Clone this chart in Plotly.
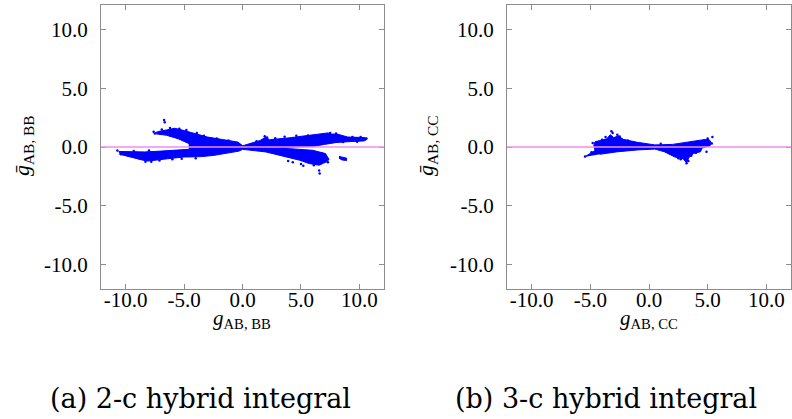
import plotly.graph_objects as go

# ---------------- data ----------------
tick_vals = [-10, -5, 0, 5, 10]
tick_text = ["-10.0", "-5.0", "0.0", "5.0", "10.0"]
axis_range = [-12.1, 12.1]

# panel (a): dense regions of the cloud, outlined as polygons (x, y)
a_ul_x = [-7.45, -7.2, -6.5, -5.8, -5.0, -4.0, -3.0, -1.8, -0.4, 0.0, -1.0, -3.0, -4.6, -5.5, -6.5, -7.4]
a_ul_y = [1.22, 1.32, 1.45, 1.6, 1.4, 1.1, 0.85, 0.65, 0.42, 0.12, 0.1, 0.2, 0.3, 0.7, 1.0, 1.12]
a_cl_x = [-4.6, -3.0, -1.5, -0.2, 0.0, 0.0, -0.3, -1.5, -2.5, -3.5, -4.6]
a_cl_y = [0.3, 0.45, 0.4, 0.2, 0.08, -0.2, -0.35, -0.55, -0.72, -0.82, -0.85]
a_ll_x = [-10.6, -9.5, -8.4, -7.0, -5.9, -4.6, -4.6, -5.0, -6.4, -7.4, -8.1, -8.6, -9.5, -10.5]
a_ll_y = [-0.38, -0.42, -0.42, -0.35, -0.28, -0.2, -0.85, -0.85, -1.0, -1.1, -1.2, -1.1, -0.85, -0.62]
a_ur_x = [0.0, 1.5, 2.0, 2.3, 4.0, 4.9, 6.5, 7.3, 7.6, 8.1, 9.0, 10.5, 10.6, 10.4, 9.0, 8.0, 7.0, 6.0, 4.5, 2.5, 0.0]
a_ur_y = [0.1, 0.55, 0.85, 0.62, 0.78, 0.88, 1.05, 1.2, 1.1, 1.1, 0.85, 0.8, 0.62, 0.52, 0.45, 0.38, 0.22, 0.05, 0.0, -0.08, -0.1]
a_lr_x = [0.0, 2.0, 4.0, 6.0, 7.1, 7.4, 7.2, 6.55, 5.7, 4.9, 3.45, 2.0, 0.0]
a_lr_y = [-0.05, -0.12, -0.14, -0.28, -0.56, -1.07, -1.25, -1.55, -1.41, -1.13, -0.79, -0.42, -0.2]
a_is_x = [8.25, 8.6, 8.9, 8.9, 8.5, 8.25]
a_is_y = [-0.8, -0.85, -0.95, -1.15, -1.1, -0.95]
# panel (a): sparse single points
a_pts_x = [-6.7, -6.65, -10.7, -10.2, -9.8, -9.1, -8.8, -8.3, -7.8, -7.6, -7.5, -6.9, -6.2, -5.4, -3.3, -2.2,
           1.9, 2.1, 3.6, 5.6, 6.6, 6.55, 6.8, 7.5, 8.0, 9.4, 10.1, 10.6, 5.2, 6.1, 4.3, -5.2, -4.0,
           -10.4, -9.3, -8.0, -7.1, -6.0, -4.8, -3.9, 2.8, 4.6, 7.8, 8.6, 9.8, 3.9, 5.0, 7.3, -1.2, 1.2]
a_pts_y = [2.3, 2.1, -0.3, -0.55, -0.7, -0.5, -0.95, -1.25, -1.25, 1.3, 1.15, 1.5, 1.62, 1.55, 0.95, 0.72,
           0.92, 0.8, 0.88, 0.98, -2.25, -2.0, -0.55, 1.2, 1.15, 0.86, 0.85, 0.72, -1.6, -1.55, -1.3, -1.0, -0.95,
           -0.62, -0.35, -0.3, -1.15, -1.05, 1.45, 1.2, 0.75, 0.95, 0.5, 0.42, 0.45, -1.2, -1.45, -1.3, 0.55, 0.5]

# panel (b)
b_main_x = [-5.5, -5.0, -4.6, -4.7, -4.6, -4.2, -3.6, -3.3, -3.0, -2.6, -2.2, -1.0, 0.5, 2.0, 3.3, 4.5, 5.1, 5.3, 5.2,
            4.5, 4.4, 3.8, 3.4, 3.2, 2.9, 2.2, 1.3, 0.5, -1.0, -2.8, -4.2]
b_main_y = [-0.85, -0.55, -0.3, 0.15, 0.45, 0.55, 0.7, 1.05, 0.8, 0.95, 0.65, 0.4, 0.18, 0.22, 0.45, 0.6, 0.65, 0.4, 0.1,
            -0.1, -0.4, -0.55, -0.9, -1.35, -1.0, -0.85, -0.4, -0.18, -0.25, -0.42, -0.62]
b_pts_x = [5.4, 5.35, -3.2, -3.1, -2.7, 3.2, 3.35, -5.45, -4.8, 4.9, 5.0, 2.7, -2.5,
           -4.9, -4.0, -3.7, 3.6, 4.0, 4.7, 2.5, -1.8, 1.0]
b_pts_y = [0.85, 0.3, 1.35, 1.2, 1.05, -1.38, -1.2, -0.82, 0.35, -0.4, 0.72, -1.05, 0.9,
           -0.45, 0.62, 0.85, -0.75, -0.5, 0.55, -0.95, 0.55, 0.28]

zero_line_y = 0.0

# ---------------- figure ----------------
BLUE = "#0000ff"
fig = go.Figure()


def add_poly(xs, ys, xa, ya):
    fig.add_trace(go.Scatter(x=xs, y=ys, mode="lines", fill="toself", fillcolor=BLUE,
                             line=dict(color=BLUE, width=1), xaxis=xa, yaxis=ya,
                             hoverinfo="skip", showlegend=False))


for xs, ys in [(a_ul_x, a_ul_y), (a_cl_x, a_cl_y), (a_ll_x, a_ll_y),
               (a_ur_x, a_ur_y), (a_lr_x, a_lr_y), (a_is_x, a_is_y)]:
    add_poly(xs, ys, "x", "y")
fig.add_trace(go.Scatter(x=a_pts_x, y=a_pts_y, mode="markers", marker=dict(color=BLUE, size=2.5),
                         xaxis="x", yaxis="y", showlegend=False))

add_poly(b_main_x, b_main_y, "x2", "y2")
fig.add_trace(go.Scatter(x=b_pts_x, y=b_pts_y, mode="markers", marker=dict(color=BLUE, size=2.5),
                         xaxis="x2", yaxis="y2", showlegend=False))

PINK = "#f28cf2"
fig.add_shape(type="line", xref="x domain", yref="y", x0=0, x1=1, y0=zero_line_y, y1=zero_line_y,
              line=dict(color=PINK, width=1.3))
fig.add_shape(type="line", xref="x2 domain", yref="y2", x0=0, x1=1, y0=zero_line_y, y1=zero_line_y,
              line=dict(color=PINK, width=1.3))

FONT = "Liberation Serif"
CAP_FONT = "DejaVu Serif"
ax_common = dict(range=axis_range, tickvals=tick_vals, ticktext=tick_text, showline=True, mirror="ticks",
                 linecolor="#8c8c8c", linewidth=1, ticks="inside", ticklen=5, tickcolor="#8c8c8c",
                 showgrid=False, zeroline=False, tickfont=dict(family=FONT, size=21, color="black"))

W, H = 792, 419
L = dict(l=0, r=0, t=5, b=130)
fig.update_layout(
    width=W, height=H, margin=L, plot_bgcolor="white", paper_bgcolor="white", showlegend=False,
    xaxis=dict(domain=[101 / W, 384 / W], anchor="y", ticklabelstandoff=-8, **ax_common),
    yaxis=dict(domain=[0, 1], anchor="x", ticklabelstandoff=8, **ax_common),
    xaxis2=dict(domain=[507 / W, 791 / W], anchor="y2", ticklabelstandoff=-8, **ax_common),
    yaxis2=dict(domain=[0, 1], anchor="x2", ticklabelstandoff=8, **ax_common),
)

ph = H - L["t"] - L["b"]


def py(p):
    return (H - L["b"] - p) / ph


ann = [
    dict(x=242 / W, y=py(319), text="<i>g</i><sub>AB, BB</sub>", textangle=0, size=21, fam=FONT),
    dict(x=649 / W, y=py(319), text="<i>g</i><sub>AB, CC</sub>", textangle=0, size=21, fam=FONT),
    dict(x=23 / W, y=py(146), text="<i>ḡ</i><sub>AB, BB</sub>", textangle=-90, size=22, fam=FONT),
    dict(x=427 / W, y=py(146), text="<i>ḡ</i><sub>AB, CC</sub>", textangle=-90, size=22, fam=FONT),
    dict(x=200 / W, y=py(398), text="(a) 2-c hybrid integral", textangle=0, size=27, fam=CAP_FONT),
    dict(x=606 / W, y=py(398), text="(b) 3-c hybrid integral", textangle=0, size=27, fam=CAP_FONT),
]
for a in ann:
    fig.add_annotation(x=a["x"], y=a["y"], xref="paper", yref="paper", text=a["text"], showarrow=False,
                       textangle=a["textangle"], xanchor="center", yanchor="middle",
                       font=dict(family=a["fam"], size=a["size"], color="black"))

fig.write_html("out.html", config={"displayModeBar": False},
               post_script="document.body.style.margin='0';document.body.style.overflow='hidden';")
